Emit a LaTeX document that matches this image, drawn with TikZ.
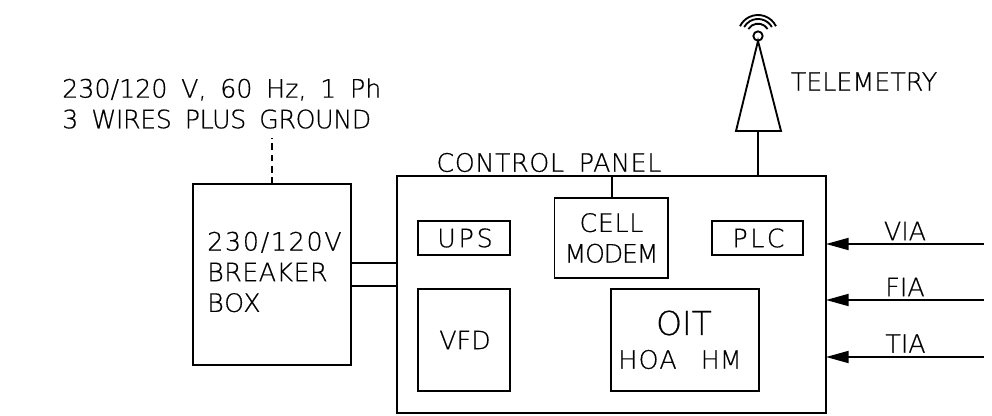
\documentclass[tikz,border=0pt]{standalone}
\usepackage{fontspec}
\setmainfont[WordSpace=1.7,FakeBold=0.5]{DejaVu Sans ExtraLight}
\usetikzlibrary{arrows.meta}
\newcommand{\spaced}[2]{{\addfontfeature{LetterSpace=#1}#2}}
\tikzset{x=0.75pt,y=-0.75pt,
 box/.style={draw=black,line width=1.4pt,inner sep=0pt},
 lab/.style={inner sep=0pt,font=\fontsize{19}{23}\selectfont,align=center},
 wire/.style={draw=black,line width=1.4pt},
 arr/.style={wire,-{Triangle[length=17pt,width=9pt]}}}
\begin{document}
\begin{tikzpicture}
\useasboundingbox (0,0) rectangle (992,416);
\draw[box] (397,176) rectangle (826,413);
\draw[box] (193,184) rectangle (351,365);
\draw[box] (418,221) rectangle (510,255);
\draw[box] (554.5,198) rectangle (668,278);
\draw[box] (712,221) rectangle (803,255);
\draw[box] (418,289) rectangle (510,391);
\draw[box] (611,289) rectangle (759,391);
\node[lab] (title) at (549,162.5) {\spaced{2.5}{CONTROL PANEL}};
\node[lab] (ups) at (465,238) {\spaced{11}{UPS}};
\node[lab] (cell) at (611.5,238) {\spaced{2.5}{CELL}\\\spaced{-5}{MODEM}};
\node[lab] (plc) at (758.5,238) {\spaced{10}{PLC}};
\node[lab] (vfd) at (465,340) {VFD};
\node[lab,font=\fontsize{24.7}{28}\selectfont] (oit) at (684,323) {OIT};
\node[lab] (hoa) at (680,359.5) {\spaced{5}{HOA}\hspace{18pt}HM};
\node[lab,align=left,anchor=west] (bb) at (207,272) {\spaced{6.7}{230/120V}\\\spaced{1.7}{BREAKER}\\\spaced{3}{BOX}};
\node[lab,align=left,anchor=west] (pw) at (62,103.5) {230/120 V, 60 Hz, 1 Ph\\\spaced{-1.7}{3 WIRES PLUS GROUND}};
\node[lab] (tel) at (864,81.5) {TELEMETRY};
\node[lab] (via) at (905,231) {VIA};
\node[lab] (fia) at (905,287) {FIA};
\node[lab] (tia) at (905.5,343.5) {TIA};
\draw[wire] (612,176) -- (612,198);
\draw[wire] (351,263) -- (397,263);
\draw[wire] (351,286) -- (397,286);
\draw[wire,dash pattern=on 5pt off 3.5pt] (272,184) -- (272,138);
\draw[wire] (758,176) -- (758,131);
\draw[wire] (736,131) -- (781,131) -- (758,41) -- cycle;
\draw[wire] (758,36) circle (3.5pt);
\draw[wire] (758,35) ++(32:8.5pt) arc (32:148:8.5pt);
\draw[wire] (758,35) ++(30:12pt) arc (30:150:12pt);
\draw[wire] (758,35) ++(26:15pt) arc (26:154:15pt);
\coordinate (a1) at (984,244); \coordinate (a2) at (984,300); \coordinate (a3) at (984,357);
\coordinate (b1) at (826,244); \coordinate (b2) at (826,300); \coordinate (b3) at (826,357);
\draw[arr] (a1) -- (b1);
\draw[arr] (a2) -- (b2);
\draw[arr] (a3) -- (b3);
\end{tikzpicture}
\end{document}
